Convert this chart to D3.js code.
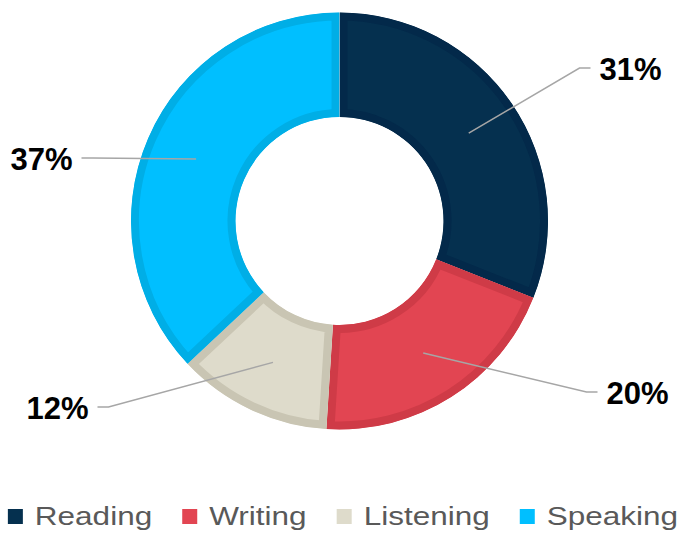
<!DOCTYPE html>
<html>
<head>
<meta charset="utf-8">
<script src="https://cdn.jsdelivr.net/npm/d3@7"></script>
<style>
  body { margin: 0; background: #fff; }
  svg { display: block; font-family: "Liberation Sans", Arial, sans-serif; }
</style>
</head>
<body>
<svg id="chart"></svg>
<script>
// data
const categories = ["Reading", "Writing", "Listening", "Speaking"];
const values = [31, 20, 12, 37];
const fills = ["#05304f", "#e24552", "#dedbcb", "#00bfff"];
const borders = ["#03294a", "#cf3b47", "#c9c5b3", "#00aee6"];

const width = 682, height = 535;
const cx = 339.5, cy = 221;
const outerR = 208.5, innerR = 104;
const borderW = 8;

// where the leader lines bend, relative to the centre (label layout only)
const labelElbow = {
  Reading: [240, -153],
  Writing: [247, 171],
  Listening: [-231, 186],
  Speaking: [-247, -63]
};

const svg = d3.select("#chart")
  .attr("width", width)
  .attr("height", height);

const data = categories.map((c, i) => ({ cat: c, value: values[i], i }));

const pie = d3.pie()
  .sort(null)
  .value(d => d.value);

const arc = d3.arc()
  .innerRadius(innerR)
  .outerRadius(outerR);

const arcs = pie(data);

const defs = svg.append("defs");
defs.selectAll("clipPath")
  .data(arcs)
  .join("clipPath")
  .attr("id", d => "clip-" + d.index)
  .append("path")
  .attr("d", arc);

const donut = svg.append("g")
  .attr("transform", `translate(${cx},${cy})`);

// fill plus an inner rim: stroke doubled and clipped to the slice
donut.selectAll(".slice")
  .data(arcs)
  .join("path")
  .attr("class", "slice")
  .attr("d", arc)
  .attr("fill", d => fills[d.index])
  .attr("stroke", d => borders[d.index])
  .attr("stroke-width", borderW * 2)
  .attr("stroke-linejoin", "miter")
  .attr("clip-path", d => `url(#clip-${d.index})`);

// leader lines and percentage labels
const total = d3.sum(values);
const fmt = v => Math.round(v / total * 100) + "%";

arcs.forEach(d => {
  const c = arc.centroid(d);
  const e = labelElbow[d.data.cat];
  const right = e[0] > 0;
  const tail = right ? 11 : -11;
  const pts = [c, e, [e[0] + tail, e[1]]];

  donut.append("path")
    .attr("d", d3.line()(pts))
    .attr("fill", "none")
    .attr("stroke", "#a6a6a6")
    .attr("stroke-width", 1.5);

  donut.append("text")
    .attr("x", e[0] + (right ? 20 : -20))
    .attr("y", e[1] + 12)
    .attr("text-anchor", right ? "start" : "end")
    .attr("font-size", 31)
    .attr("font-weight", "bold")
    .attr("fill", "#000")
    .text(fmt(d.data.value));
});

// legend (text in the picture is set wide, hence the x stretch)
const stretch = 1.26;
const legend = svg.append("g");

const items = legend.selectAll(".item")
  .data(data)
  .join("g")
  .attr("class", "item");

items.append("rect")
  .attr("width", 15)
  .attr("height", 15)
  .attr("y", 509)
  .attr("fill", d => fills[d.i]);

items.append("text")
  .attr("y", 525)
  .attr("font-size", 25)
  .attr("fill", "#595959")
  .text(d => d.cat);

// lay the items out in a row, centred
let widths = [];
items.each(function () {
  widths.push(d3.select(this).select("text").node().getComputedTextLength() * stretch);
});
const box = 15, gapText = 12, gapItem = 30;
const totalW = d3.sum(widths) + categories.length * (box + gapText) + (categories.length - 1) * gapItem;
let x = (width - totalW) / 2 + 2;
items.each(function (d, i) {
  const g = d3.select(this);
  g.select("rect").attr("x", x);
  const tx = x + box + gapText;
  g.select("text")
    .attr("transform", `translate(${tx},0) scale(${stretch},1)`);
  x += box + gapText + widths[i] + gapItem;
});
</script>
</body>
</html>
